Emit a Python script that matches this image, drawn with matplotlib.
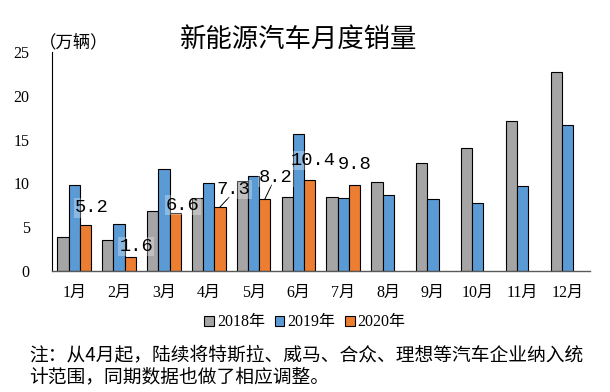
import numpy as np
import matplotlib.pyplot as plt

plt.rcParams['font.family'] = ['Liberation Serif', 'Noto Sans CJK SC']

months = ['1月', '2月', '3月', '4月', '5月', '6月', '7月', '8月', '9月', '10月', '11月', '12月']
s2018 = [3.9, 3.5, 6.9, 8.3, 10.3, 8.5, 8.5, 10.2, 12.3, 14.0, 17.1, 22.7]
s2019 = [9.8, 5.4, 11.6, 10.0, 10.8, 15.7, 8.3, 8.7, 8.2, 7.8, 9.7, 16.7]
s2020 = [5.2, 1.6, 6.6, 7.3, 8.2, 10.4, 9.8]
series_names = ['2018年', '2019年', '2020年']

fig = plt.figure(figsize=(6.1, 3.92), dpi=100)
ax = fig.add_axes([0.085, 0.309, 0.882, 0.558])

x = np.arange(len(months))
w = 0.25
ax.bar(x - w, s2018, w, color='#A5A5A5', edgecolor='black', linewidth=0.8, label=series_names[0])
ax.bar(x, s2019, w, color='#5B9BD5', edgecolor='black', linewidth=0.8, label=series_names[1])
x20 = np.arange(len(s2020))
ax.bar(x20 + w, s2020, w, color='#ED7D31', edgecolor='black', linewidth=0.8, label=series_names[2])

# data labels (offset from bars like the original)
lab_pos = [(0.39, 7.2), (1.38, 2.8), (2.42, 7.5), (3.55, 9.3), (4.5, 10.7), (5.33, 12.6), (6.26, 12.2)]
for i, (v, (lx, ly)) in enumerate(zip(s2020, lab_pos)):
    ax.text(lx, ly, '{:.1f}'.format(v), ha='center', va='center', fontsize=13.5,
            family=['Liberation Mono'],
            bbox=dict(facecolor='white', alpha=0.3, edgecolor='none', pad=1))
# leader lines for 4月 and 5月
for i in [3, 4]:
    ax.plot([i + w, lab_pos[i][0] - 0.1], [s2020[i], lab_pos[i][1] - 0.9], color='black', lw=0.7)

ax.set_xlim(-0.5, 11.5)
ax.set_ylim(0, 25)
ax.set_yticks([0, 5, 10, 15, 20, 25])
ax.set_xticks(x)
ax.set_xticklabels(months, fontsize=11.5)
ax.tick_params(axis='both', length=0, labelsize=11.5)
ax.tick_params(axis='y', pad=16)
ax.tick_params(axis='x', pad=10)
for sp in ['top', 'right']:
    ax.spines[sp].set_visible(False)
ax.spines['left'].set_color('black')
ax.spines['left'].set_linewidth(0.8)
ax.spines['bottom'].set_color('#595959')
ax.spines['bottom'].set_linewidth(1.0)

fig.text(0.49, 0.9, '新能源汽车月度销量', ha='center', va='center', fontsize=19,
         fontweight='medium', family=['Noto Sans CJK SC'])
fig.text(0.12, 0.893, '（万辆）', ha='center', va='center', fontsize=12.5,
         family=['Noto Sans CJK SC'])

fig.legend(loc='center', bbox_to_anchor=(0.5, 0.178), ncol=3, frameon=False,
           fontsize=11.5, handlelength=0.6, handleheight=0.6, handletextpad=0.2,
           columnspacing=0.6)

fig.text(0.048, 0.095, '注：从4月起，陆续将特斯拉、威马、合众、理想等汽车企业纳入统',
         ha='left', va='center', fontsize=13.5, family=['Noto Sans CJK SC'])
fig.text(0.048, 0.04, '计范围，同期数据也做了相应调整。',
         ha='left', va='center', fontsize=13.5, family=['Noto Sans CJK SC'])

fig.savefig('out.png', dpi=100)
